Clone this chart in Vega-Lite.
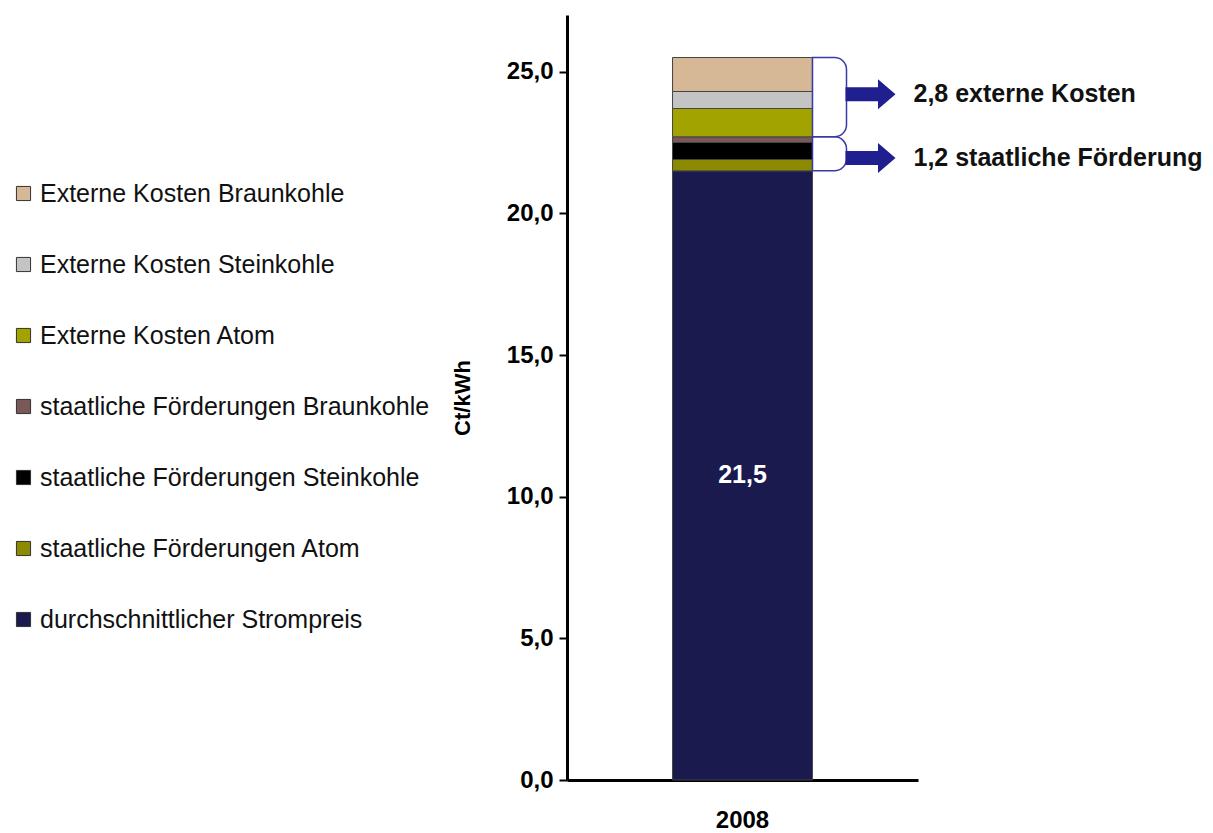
{
  "$schema": "https://vega.github.io/schema/vega-lite/v6.json",
  "width": 351,
  "height": 765,
  "padding": {"left": 11, "top": 15, "right": 5, "bottom": 5},
  "background": "white",
  "config": {"view": {"stroke": null}, "font": "Liberation Sans"},
  "datasets": {
    "costs": [
      {"cat": "2008", "kategorie": "durchschnittlicher Strompreis", "value": 21.5, "rank": 1},
      {"cat": "2008", "kategorie": "staatliche Förderungen Atom", "value": 0.4, "rank": 2},
      {"cat": "2008", "kategorie": "staatliche Förderungen Steinkohle", "value": 0.6, "rank": 3},
      {"cat": "2008", "kategorie": "staatliche Förderungen Braunkohle", "value": 0.2, "rank": 4},
      {"cat": "2008", "kategorie": "Externe Kosten Atom", "value": 1.0, "rank": 5},
      {"cat": "2008", "kategorie": "Externe Kosten Steinkohle", "value": 0.6, "rank": 6},
      {"cat": "2008", "kategorie": "Externe Kosten Braunkohle", "value": 1.2, "rank": 7}
    ],
    "notes": [
      {"cat": "2008", "group": "extern", "label": "2,8 externe Kosten", "y": 24.2, "lo": 22.7, "hi": 25.5},
      {"cat": "2008", "group": "foerderung", "label": "1,2 staatliche Förderung", "y": 21.95, "lo": 21.5, "hi": 22.7}
    ],
    "inner": [
      {"cat": "2008", "label": "21,5", "y": 10.75}
    ]
  },
  "layer": [
    {
      "data": {"name": "costs"},
      "mark": {"type": "bar", "stroke": "#444444", "strokeWidth": 1},
      "encoding": {
        "x": {
          "field": "cat", "type": "nominal",
          "scale": {"paddingInner": 0.43, "paddingOuter": 0.43},
          "axis": {
            "title": null, "labelFontSize": 24, "labelFontWeight": "bold", "labelColor": "black",
            "labelPadding": 28, "ticks": false, "domainColor": "black", "domainWidth": 3, "labelAngle": 0
          }
        },
        "y": {
          "field": "value", "type": "quantitative", "stack": "zero", "title": "Ct/kWh",
          "scale": {"domain": [0, 27], "nice": false},
          "axis": {
            "titleFontSize": 22, "titleFontWeight": "bold", "titleColor": "black", "titlePadding": 32,
            "values": [0, 5, 10, 15, 20, 25],
            "labelExpr": "replace(format(datum.value, '.1f'), '.', ',')",
            "labelFontSize": 24, "labelFontWeight": "bold", "labelColor": "black",
            "domainColor": "black", "domainWidth": 3, "tickColor": "black", "tickWidth": 2, "tickSize": 8,
            "labelPadding": 6, "grid": false
          }
        },
        "color": {
          "field": "kategorie", "type": "nominal",
          "scale": {
            "domain": [
              "Externe Kosten Braunkohle", "Externe Kosten Steinkohle", "Externe Kosten Atom",
              "staatliche Förderungen Braunkohle", "staatliche Förderungen Steinkohle",
              "staatliche Förderungen Atom", "durchschnittlicher Strompreis"
            ],
            "range": ["#d6b796", "#c4c4c4", "#a3a300", "#7a5858", "#000000", "#8c8a00", "#1b1a4e"]
          },
          "legend": {
            "title": null, "orient": "none", "legendX": -556, "legendY": 166,
            "symbolType": "square", "symbolSize": 200, "symbolStrokeColor": "#333333", "symbolStrokeWidth": 1,
            "labelFontSize": 25, "labelColor": "#111111", "rowPadding": 45, "labelOffset": 4, "padding": 0,
            "labelLimit": 500
          }
        },
        "order": {"field": "rank", "type": "quantitative"}
      }
    },
    {
      "data": {"name": "notes"},
      "mark": {"type": "bar", "filled": false, "stroke": "#3a3aa6", "strokeWidth": 1.5, "width": 34, "xOffset": 87,
        "cornerRadiusTopRight": 12, "cornerRadiusBottomRight": 12, "cornerRadiusTopLeft": 0, "cornerRadiusBottomLeft": 0},
      "encoding": {
        "x": {"field": "cat", "type": "nominal"},
        "y": {"field": "lo", "type": "quantitative", "title": "Ct/kWh"},
        "y2": {"field": "hi"}
      }
    },
    {
      "data": {"name": "inner"},
      "mark": {"type": "text", "color": "white", "fontSize": 25, "fontWeight": "bold", "baseline": "middle"},
      "encoding": {
        "x": {"field": "cat", "type": "nominal"},
        "y": {"field": "y", "type": "quantitative", "title": "Ct/kWh"},
        "text": {"field": "label"}
      }
    },
    {
      "data": {"name": "notes"},
      "mark": {"type": "text", "color": "#111111", "fontSize": 25, "fontWeight": "bold", "align": "left", "baseline": "middle", "xOffset": 171},
      "encoding": {
        "x": {"field": "cat", "type": "nominal"},
        "y": {"field": "y", "type": "quantitative", "title": "Ct/kWh"},
        "text": {"field": "label"}
      }
    },
    {
      "data": {"name": "notes"},
      "mark": {"type": "point", "shape": "M-1,-0.28L0.3,-0.28L0.3,-0.6L1,0L0.3,0.6L0.3,0.28L-1,0.28Z", "filled": true, "color": "#1f1f8f", "opacity": 1, "size": 2500, "xOffset": 128},
      "encoding": {
        "x": {"field": "cat", "type": "nominal"},
        "y": {"field": "y", "type": "quantitative", "title": "Ct/kWh"}
      }
    }
  ]
}
